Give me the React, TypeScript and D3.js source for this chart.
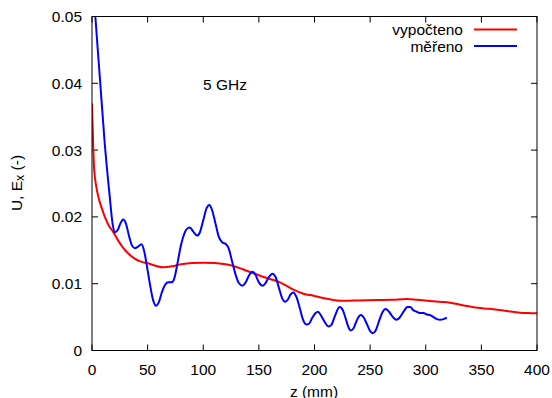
import React from "react";
import * as d3 from "d3";

const xTicks = [0, 50, 100, 150, 200, 250, 300, 350, 400];
const yTicks = [0, 0.01, 0.02, 0.03, 0.04, 0.05];
const yTickLabels = ["0", "0.01", "0.02", "0.03", "0.04", "0.05"];

const computedZ = [0, 1, 2, 3.9, 6, 8.4, 12, 15, 18.9, 23, 27, 32.4, 38, 44, 50.3, 57, 64, 72, 80, 90, 100, 110, 120, 127, 135, 143, 151, 160, 169, 181, 190, 199, 210, 220, 226, 240, 256, 270, 283, 292, 301, 312, 322, 332, 343, 352, 361, 373, 385, 393, 400];
const computedV = [0.037, 0.031, 0.027, 0.0245, 0.0228, 0.0215, 0.0198, 0.0187, 0.0178, 0.0166, 0.0156, 0.01455, 0.0138, 0.0133, 0.01305, 0.0127, 0.01245, 0.0126, 0.0129, 0.0131, 0.01314, 0.0131, 0.0129, 0.01265, 0.0122, 0.0117, 0.0112, 0.0107, 0.0102, 0.0091, 0.0085, 0.0082, 0.0078, 0.0075, 0.00746, 0.0075, 0.00756, 0.0076, 0.00771, 0.0076, 0.00746, 0.0073, 0.00716, 0.0068, 0.00647, 0.0063, 0.00617, 0.0059, 0.00566, 0.0056, 0.00557];

const measuredZ = [0, 3, 7, 11.4, 15.9, 18.5, 20.4, 23, 25.5, 28, 30.5, 33.5, 36, 38.6, 41, 44.5, 47, 49, 52, 55, 57.5, 60, 63, 66, 68.6, 71.5, 74, 77, 80, 83, 86, 88, 91, 94.5, 97, 100, 103, 105.5, 108, 111, 114, 117, 120.5, 123, 126, 129, 132, 135.4, 138.5, 141, 144.4, 147, 150, 153.4, 156, 159, 162.2, 165, 168, 171, 173.5, 176, 178.5, 181, 184, 187, 189.5, 192.5, 195, 198, 201, 203, 206, 209, 212.5, 215, 218, 222.5, 225, 228, 230.5, 232.5, 235, 238, 241.5, 244, 247, 250, 252.5, 255, 258, 261, 264, 267, 270.5, 273.5, 276.5, 280, 283.5, 286, 289, 292, 295, 298, 301, 304, 307, 310, 313, 316, 319];
const measuredV = [0.058, 0.05, 0.041, 0.0311, 0.0231, 0.019, 0.0177, 0.018, 0.019, 0.0196, 0.019, 0.017, 0.0157, 0.0153, 0.0155, 0.0159, 0.0148, 0.013, 0.01, 0.0075, 0.0067, 0.0072, 0.0088, 0.0099, 0.0102, 0.0102, 0.0108, 0.0132, 0.0158, 0.0175, 0.0183, 0.0184, 0.0178, 0.0172, 0.0177, 0.0195, 0.0213, 0.0218, 0.021, 0.019, 0.017, 0.0162, 0.0159, 0.0152, 0.0133, 0.0114, 0.0101, 0.0097, 0.0103, 0.0112, 0.0118, 0.0113, 0.0102, 0.0097, 0.0101, 0.011, 0.0115, 0.011, 0.0094, 0.0078, 0.0073, 0.0076, 0.0084, 0.0087, 0.0079, 0.0062, 0.0047, 0.0039, 0.004, 0.0049, 0.0056, 0.0058, 0.0052, 0.0043, 0.0036, 0.0038, 0.005, 0.0065, 0.0062, 0.0048, 0.0035, 0.003, 0.0033, 0.0045, 0.0053, 0.005, 0.004, 0.0029, 0.0026, 0.003, 0.0044, 0.0057, 0.0062, 0.0058, 0.005, 0.0046, 0.0049, 0.0058, 0.0065, 0.0065, 0.006, 0.0058, 0.0056, 0.0056, 0.0054, 0.0053, 0.005, 0.0047, 0.0046, 0.0047, 0.0049];

const seriesNames = ["vypočteno", "měřeno"];
const annotation = "5 GHz";

const W = 552, H = 398;
const L = 92, R = 537, T = 16.5, B = 350.5;
const FONT = "'Liberation Sans', Arial, sans-serif";
const FS = 15.5;

export default function App() {
  const x = d3.scaleLinear().domain([0, 400]).range([L, R]);
  const y = d3.scaleLinear().domain([0, 0.05]).range([B, T]);
  const line = d3.line<[number, number]>()
    .x(d => x(d[0])).y(d => y(d[1]))
    .curve(d3.curveMonotoneX);
  const red = line(computedZ.map((z, i) => [z, computedV[i]] as [number, number])) || "";
  const blue = line(measuredZ.map((z, i) => [z, measuredV[i]] as [number, number])) || "";
  const tl = 6;
  return (
    <svg width={W} height={H} style={{ position: "absolute", left: 0, top: 0 }} fontFamily={FONT}>
      <rect width={W} height={H} fill="#fff" />
      <defs>
        <clipPath id="plot">
          <rect x={L} y={T} width={R - L} height={B - T} />
        </clipPath>
      </defs>
      {xTicks.map(t => (
        <g key={"x" + t}>
          <line x1={x(t)} x2={x(t)} y1={B} y2={B - tl} stroke="#000" />
          <line x1={x(t)} x2={x(t)} y1={T} y2={T + tl} stroke="#000" />
          <text x={x(t)} y={B + 19} fontSize={FS} textAnchor="middle" dominantBaseline="central">{t}</text>
        </g>
      ))}
      {yTicks.map((t, i) => (
        <g key={"y" + t}>
          <line x1={L} x2={L + tl} y1={y(t)} y2={y(t)} stroke="#000" />
          <line x1={R} x2={R - tl} y1={y(t)} y2={y(t)} stroke="#000" />
          <text x={L - 10} y={y(t)} fontSize={FS} textAnchor="end" dominantBaseline="central">{yTickLabels[i]}</text>
        </g>
      ))}
      <g clipPath="url(#plot)">
        <path d={red} fill="none" stroke="#ff0000" strokeWidth={2} />
        <path d={blue} fill="none" stroke="#0000ff" strokeWidth={2} />
      </g>
      <rect x={L} y={T} width={R - L} height={B - T} fill="none" stroke="#000" strokeWidth={1} />
      <text x={203} y={84} fontSize={FS} dominantBaseline="central">{annotation}</text>
      <text x={463} y={29} fontSize={FS} textAnchor="end" dominantBaseline="central">{seriesNames[0]}</text>
      <line x1={474} x2={517} y1={29.5} y2={29.5} stroke="#ff0000" strokeWidth={2} />
      <text x={463} y={46} fontSize={FS} textAnchor="end" dominantBaseline="central">{seriesNames[1]}</text>
      <line x1={474} x2={517} y1={46} y2={46} stroke="#0000ff" strokeWidth={2} />
      <text x={314} y={391} fontSize={FS} textAnchor="middle" dominantBaseline="central">z (mm)</text>
      <text transform={`translate(16,183) rotate(-90)`} fontSize={FS} textAnchor="middle" dominantBaseline="central">
        U, E<tspan fontSize={FS * 0.8} dy={4}>x</tspan><tspan dy={-4}> (-)</tspan>
      </text>
    </svg>
  );
}
